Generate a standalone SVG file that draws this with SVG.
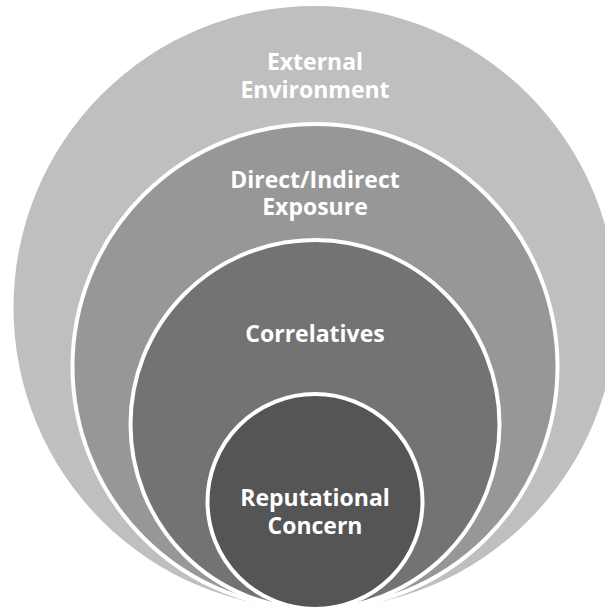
<svg xmlns="http://www.w3.org/2000/svg" width="605" height="607" viewBox="0 0 605 607">
  <style>
    .ring { stroke: #ffffff; stroke-width: 4; }
    .label { fill: #ffffff; font-family: "Open Sans", "Noto Sans", "DejaVu Sans", sans-serif; font-weight: 700; font-size: 23px; text-anchor: middle; }
  </style>
  <rect width="605" height="607" fill="#ffffff"/>
  <g id="external-environment">
    <circle cx="315" cy="307.5" r="301.5" fill="#bfbfbf"/>
    <text class="label" x="315" y="70">External</text>
    <text class="label" x="315" y="98">Environment</text>
  </g>
  <g id="direct-indirect-exposure">
    <circle class="ring" cx="315" cy="366.5" r="242.5" fill="#979797"/>
    <text class="label" x="315" y="188">Direct/Indirect</text>
    <text class="label" x="315" y="215">Exposure</text>
  </g>
  <g id="correlatives">
    <circle class="ring" cx="315" cy="424.5" r="184.5" fill="#737373"/>
    <text class="label" x="315" y="342">Correlatives</text>
  </g>
  <g id="reputational-concern">
    <circle class="ring" cx="315" cy="501.5" r="107.5" fill="#555555"/>
    <text class="label" x="315" y="506">Reputational</text>
    <text class="label" x="315" y="534">Concern</text>
  </g>
  <g id="connectors"/>
</svg>
